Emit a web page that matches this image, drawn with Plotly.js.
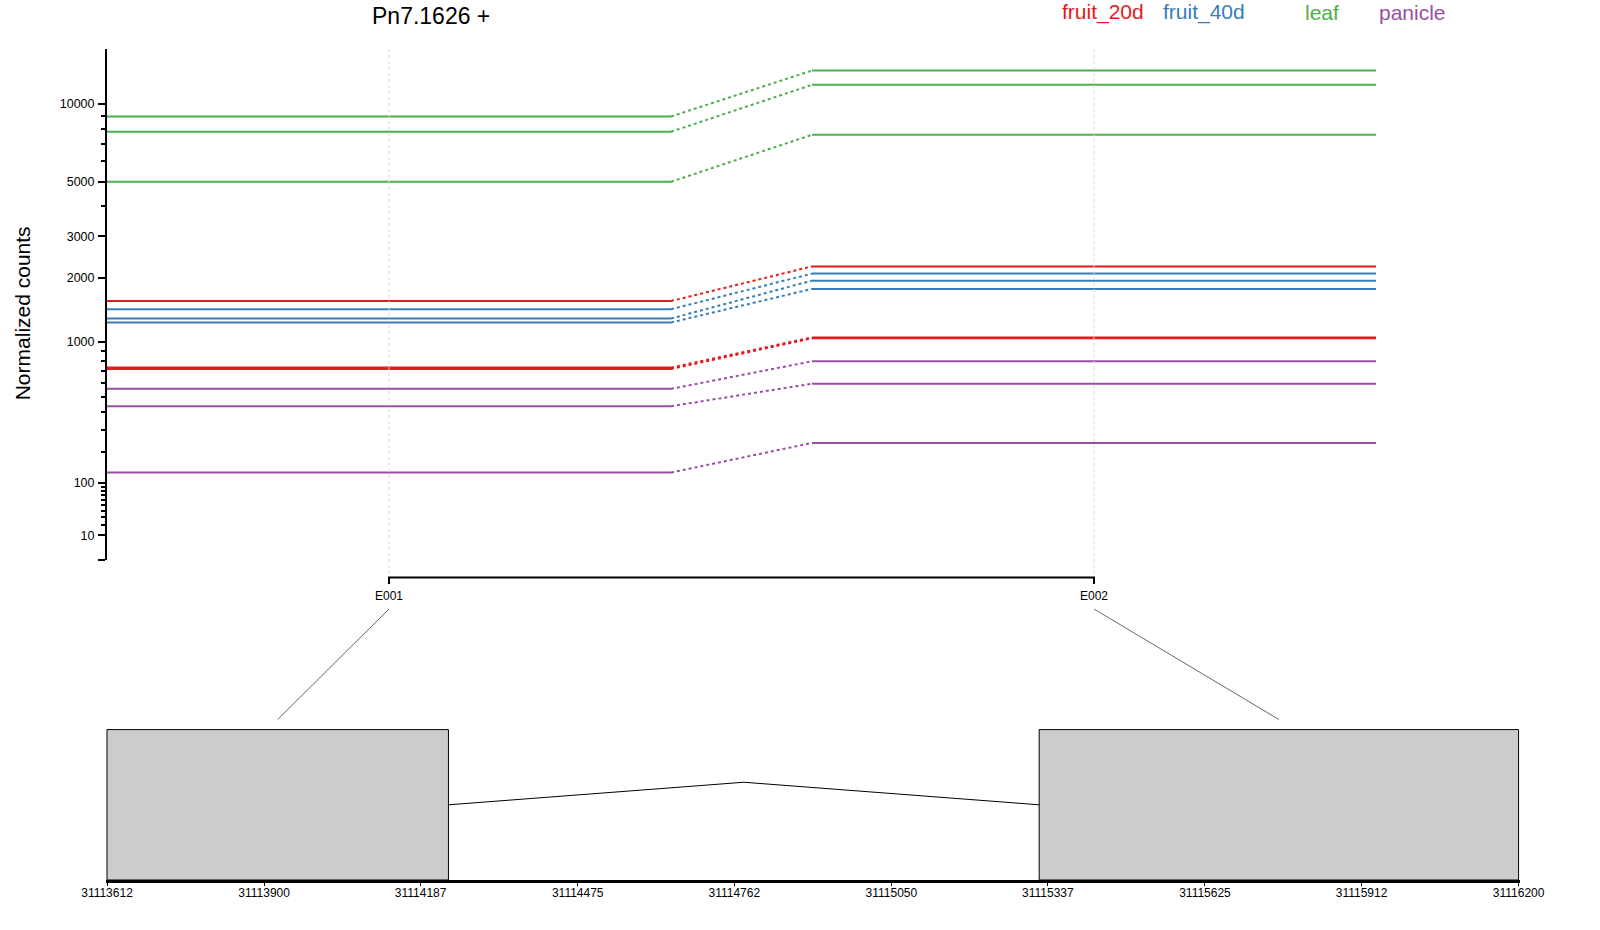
<!DOCTYPE html>
<html>
<head>
<meta charset="utf-8">
<script src="https://cdn.plot.ly/plotly-3.0.1.min.js"></script>
<style>html,body{margin:0;padding:0;background:#fff;}</style>
</head>
<body>
<div id="chart" style="width:1600px;height:930px;"></div>
<script>
// ---------------- data ----------------
const geneTitle = 'Pn7.1626 +';
const conditions = ['fruit_20d', 'fruit_40d', 'leaf', 'panicle'];
const conditionColors = ['#E41A1C', '#377EB8', '#4DAF4A', '#984EA3'];
const sampleCondition = ['fruit_20d', 'fruit_20d', 'fruit_20d',
                         'fruit_40d', 'fruit_40d', 'fruit_40d',
                         'leaf', 'leaf', 'leaf',
                         'panicle', 'panicle', 'panicle'];
// normalized counts per exon (one value per sample)
const countsE001 = [1571, 722, 735, 1440, 1303, 1247, 8950, 7825, 4994, 557, 436, 129];
const countsE002 = [2239, 1044, 1055, 2083, 1940, 1783, 13367, 11804, 7612, 795, 597, 239];

const exonIds = ['E001', 'E002'];
const exonStart = [31113612, 31115321];
const exonEnd = [31114238, 31116200];

const yTickVals = [0, 10, 100, 1000, 2000, 3000, 5000, 10000];
const yTickText = ['', '10', '100', '1000', '2000', '3000', '5000', '10000'];
const yMinorVals = [20, 30, 40, 50, 60, 70, 80, 90, 200, 300, 400, 500, 600, 700, 800, 900,
                    4000, 6000, 7000, 8000, 9000];
const genomicTicks = [31113612, 31113900, 31114187, 31114475, 31114762,
                      31115050, 31115337, 31115625, 31115912, 31116200];

// ---------------- helpers ----------------
const VST_K = 0.0011;                       // variance-stabilising axis transform
function vst(q) { return 2 * Math.asinh(Math.sqrt(VST_K * q)); }

const W = 1600, H = 930;
const px = v => v / W;
const py = v => 1 - v / H;
const GAP = 0.25;                           // gap between exon slots (slot width = 1)
const slotStart = i => i * (1 + GAP);
const slotCenter = i => slotStart(i) + 0.5;

const FONT = 'Liberation Sans, Arial, Helvetica, sans-serif';
const colorOf = s => conditionColors[conditions.indexOf(sampleCondition[s])];

// axis geometry
const xDomain = [px(107), px(1517)];
const xRange = [0, 2.5];
const x2Domain = [px(107 - 1), px(1518.6 + 1)];
const bpPerPx = (exonEnd[1] - exonStart[0]) / (1518.6 - 107);
const x2Range = [exonStart[0] - bpPerPx, exonEnd[1] + bpPerPx];
const y2Range = [0, 1.02];
const y2Domain = [py(880), py(880 - 150.4 * 1.02)];

function xToPaper(v) { return xDomain[0] + (v - xRange[0]) / (xRange[1] - xRange[0]) * (xDomain[1] - xDomain[0]); }
function x2ToPaper(v) { return x2Domain[0] + (v - x2Range[0]) / (x2Range[1] - x2Range[0]) * (x2Domain[1] - x2Domain[0]); }

// ---------------- traces ----------------
const traces = [];
for (let s = 0; s < sampleCondition.length; s++) {
  const c = colorOf(s);
  const v1 = vst(countsE001[s]), v2 = vst(countsE002[s]);
  traces.push({
    type: 'scatter', mode: 'lines', xaxis: 'x', yaxis: 'y',
    x: [slotStart(0), slotStart(0) + 1, null, slotStart(1), slotStart(1) + 1],
    y: [v1, v1, null, v2, v2],
    line: {color: c, width: 2}, hoverinfo: 'skip', showlegend: false
  });
  traces.push({
    type: 'scatter', mode: 'lines', xaxis: 'x', yaxis: 'y',
    x: [slotStart(0) + 1, slotStart(1)],
    y: [v1, v2],
    line: {color: c, width: 2, dash: '3px,3px'}, hoverinfo: 'skip', showlegend: false
  });
}
// intron caret
const intronMid = (exonEnd[0] + exonStart[1]) / 2;
traces.push({
  type: 'scatter', mode: 'lines', xaxis: 'x2', yaxis: 'y2',
  x: [exonEnd[0], intronMid, exonStart[1]],
  y: [0.5, 0.65, 0.5],
  line: {color: '#000', width: 1}, hoverinfo: 'skip', showlegend: false
});

// ---------------- shapes ----------------
const shapes = [];
for (let i = 0; i < exonIds.length; i++) {
  shapes.push({type: 'rect', xref: 'x2', yref: 'y2', x0: exonStart[i], x1: exonEnd[i], y0: 0, y1: 1,
               fillcolor: '#CCCCCC', line: {color: '#000', width: 1}, layer: 'below'});
  shapes.push({type: 'line', xref: 'x', yref: 'paper', x0: slotCenter(i), x1: slotCenter(i),
               y0: py(49), y1: py(576), line: {color: '#DADADA', width: 1, dash: 'dot'}});
  const mid = (exonStart[i] + exonEnd[i]) / 2;
  shapes.push({type: 'line', xref: 'paper', yref: 'paper',
               x0: xToPaper(slotCenter(i)), y0: py(609),
               x1: x2ToPaper(mid), y1: py(719.5),
               line: {color: '#666666', width: 1}});
}
{
  const a = slotCenter(0), b = slotCenter(exonIds.length - 1);
  shapes.push({type: 'path', xref: 'x', yref: 'paper',
    path: `M ${a},${py(584)} L ${a},${py(577.6)} L ${b},${py(577.6)} L ${b},${py(584)}`,
    line: {color: '#000', width: 2}});
}

// ---------------- annotations ----------------
const annotations = [];
annotations.push({xref: 'paper', yref: 'paper', x: px(431), y: py(16), text: geneTitle, showarrow: false,
                  xanchor: 'center', yanchor: 'middle', font: {family: FONT, size: 23, color: '#000'}});
const legendX = [1102.7, 1203.7, 1321.8, 1412.7];
conditions.forEach((c, i) => {
  annotations.push({xref: 'paper', yref: 'paper', x: px(legendX[i]), y: py(12.5), text: c, showarrow: false,
                    xanchor: 'center', yanchor: 'middle', font: {family: FONT, size: 21, color: conditionColors[i]}});
});
annotations.push({xref: 'paper', yref: 'paper', x: px(22.5), y: py(313.8), text: 'Normalized counts',
                  textangle: -90, showarrow: false, xanchor: 'center', yanchor: 'middle',
                  font: {family: FONT, size: 21, color: '#000'}});
exonIds.forEach((id, i) => {
  annotations.push({xref: 'x', yref: 'paper', x: slotCenter(i), y: py(596), text: id, showarrow: false,
                    xanchor: 'center', yanchor: 'middle', font: {family: FONT, size: 12, color: '#000'}});
});

// ---------------- layout ----------------
const layout = {
  width: W, height: H, autosize: false,
  margin: {l: 0, r: 0, t: 0, b: 0},
  paper_bgcolor: '#fff', plot_bgcolor: 'rgba(0,0,0,0)',
  showlegend: false,
  font: {family: FONT, color: '#000'},
  xaxis: {domain: xDomain, range: xRange, visible: false, fixedrange: true},
  yaxis: {
    domain: [py(560.4), py(49)], range: [vst(0), vst(16100)], anchor: 'x',
    showline: true, linecolor: '#000', linewidth: 2, mirror: false,
    ticks: 'outside', ticklen: 7, tickwidth: 2, tickcolor: '#000',
    ticklabelstandoff: 1,
    tickmode: 'array', tickvals: yTickVals.map(vst), ticktext: yTickText,
    tickfont: {family: FONT, size: 12.5, color: '#000'},
    showgrid: false, zeroline: false, fixedrange: true,
    minor: {tickmode: 'array', tickvals: yMinorVals.map(vst), ticks: 'outside', ticklen: 4,
            tickwidth: 2, tickcolor: '#000', showgrid: false}
  },
  xaxis2: {
    domain: x2Domain, range: x2Range, anchor: 'y2',
    showline: true, linecolor: '#000', linewidth: 2.5,
    ticks: 'outside', ticklen: 3, tickwidth: 1, tickcolor: '#000',
    ticklabelstandoff: -3,
    tickmode: 'array', tickvals: genomicTicks, ticktext: genomicTicks.map(String),
    tickfont: {family: FONT, size: 12, color: '#000'},
    showgrid: false, zeroline: false, fixedrange: true
  },
  yaxis2: {domain: y2Domain, range: y2Range, anchor: 'x2', visible: false, fixedrange: true},
  shapes: shapes,
  annotations: annotations
};

Plotly.newPlot('chart', traces, layout, {staticPlot: true, displayModeBar: false});
</script>
</body>
</html>
